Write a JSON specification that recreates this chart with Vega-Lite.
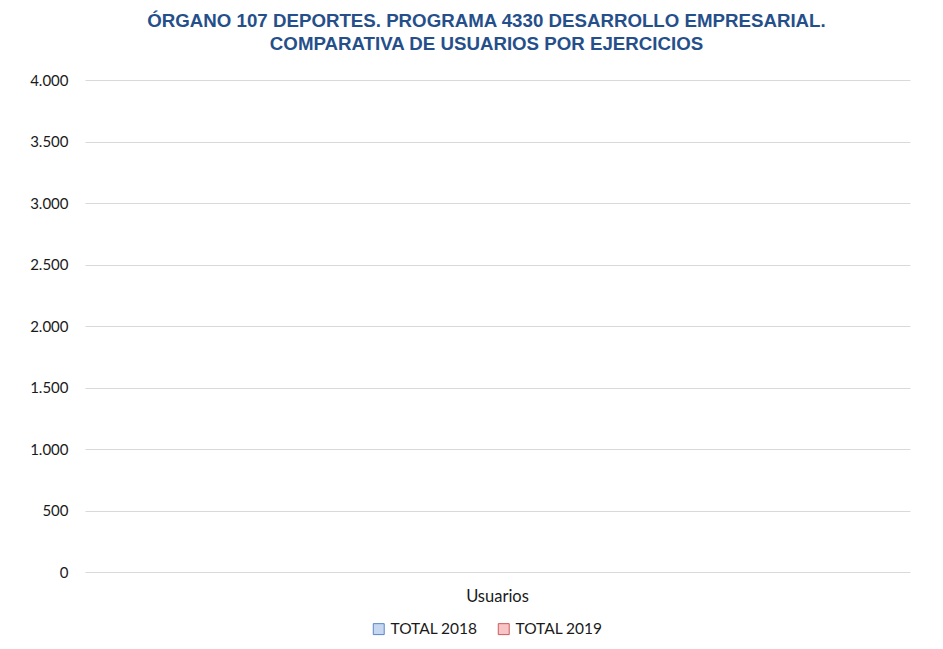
{
  "$schema": "https://vega.github.io/schema/vega-lite/v6.json",
  "width": 825,
  "height": 492,
  "autosize": {"type": "none"},
  "padding": {"left": 85, "top": 80, "right": 33, "bottom": 77},
  "background": "white",
  "config": {
    "locale": {"number": {"decimal": ",", "thousands": ".", "grouping": [3], "currency": ["", " €"]}},
    "view": {"stroke": null},
    "font": "Lato"
  },
  "title": {
    "text": ["ÓRGANO 107 DEPORTES. PROGRAMA 4330 DESARROLLO EMPRESARIAL.", "COMPARATIVA DE USUARIOS POR EJERCICIOS"],
    "font": "Liberation Sans",
    "fontSize": 18.7,
    "fontWeight": "bold",
    "color": "#254f8a",
    "anchor": "middle",
    "dx": -11,
    "offset": 19,
    "lineHeight": 23
  },
  "data": {
    "values": [
      {"categoria": "Usuarios", "serie": "TOTAL 2018", "valor": 0},
      {"categoria": "Usuarios", "serie": "TOTAL 2019", "valor": 0}
    ]
  },
  "mark": {"type": "bar", "strokeWidth": 0},
  "encoding": {
    "x": {
      "field": "categoria",
      "type": "nominal",
      "title": null,
      "axis": {"labelAngle": 0, "domain": false, "ticks": false, "labelPadding": 16, "labelFontSize": 16.5, "labelColor": "#1a1a1a"}
    },
    "xOffset": {"field": "serie", "type": "nominal"},
    "y": {
      "field": "valor",
      "type": "quantitative",
      "title": null,
      "scale": {"domain": [0, 4000]},
      "axis": {
        "values": [0, 500, 1000, 1500, 2000, 2500, 3000, 3500, 4000],
        "format": ",d",
        "domain": false,
        "ticks": false,
        "labelPadding": 17,
        "labelFontSize": 15,
        "labelColor": "#1a1a1a",
        "gridColor": "#d9d9d9",
        "gridWidth": 1
      }
    },
    "fill": {
      "field": "serie",
      "type": "nominal",
      "scale": {"range": ["#c6d7f0", "#f7c5c5"]},
      "legend": {"orient": "none", "legendX": 286, "legendY": 541, "direction": "horizontal", "title": null, "symbolType": "square", "symbolSize": 120, "symbolStrokeWidth": 1, "labelFontSize": 15.5, "labelColor": "#1a1a1a", "columnPadding": 18, "labelOffset": 4}
    },
    "stroke": {
      "field": "serie",
      "type": "nominal",
      "scale": {"range": ["#5b86c8", "#d05a5a"]},
      "legend": {"orient": "none", "legendX": 286, "legendY": 541, "direction": "horizontal", "title": null, "symbolType": "square", "symbolSize": 120, "symbolStrokeWidth": 1, "labelFontSize": 15.5, "labelColor": "#1a1a1a", "columnPadding": 18, "labelOffset": 4}
    }
  }
}
